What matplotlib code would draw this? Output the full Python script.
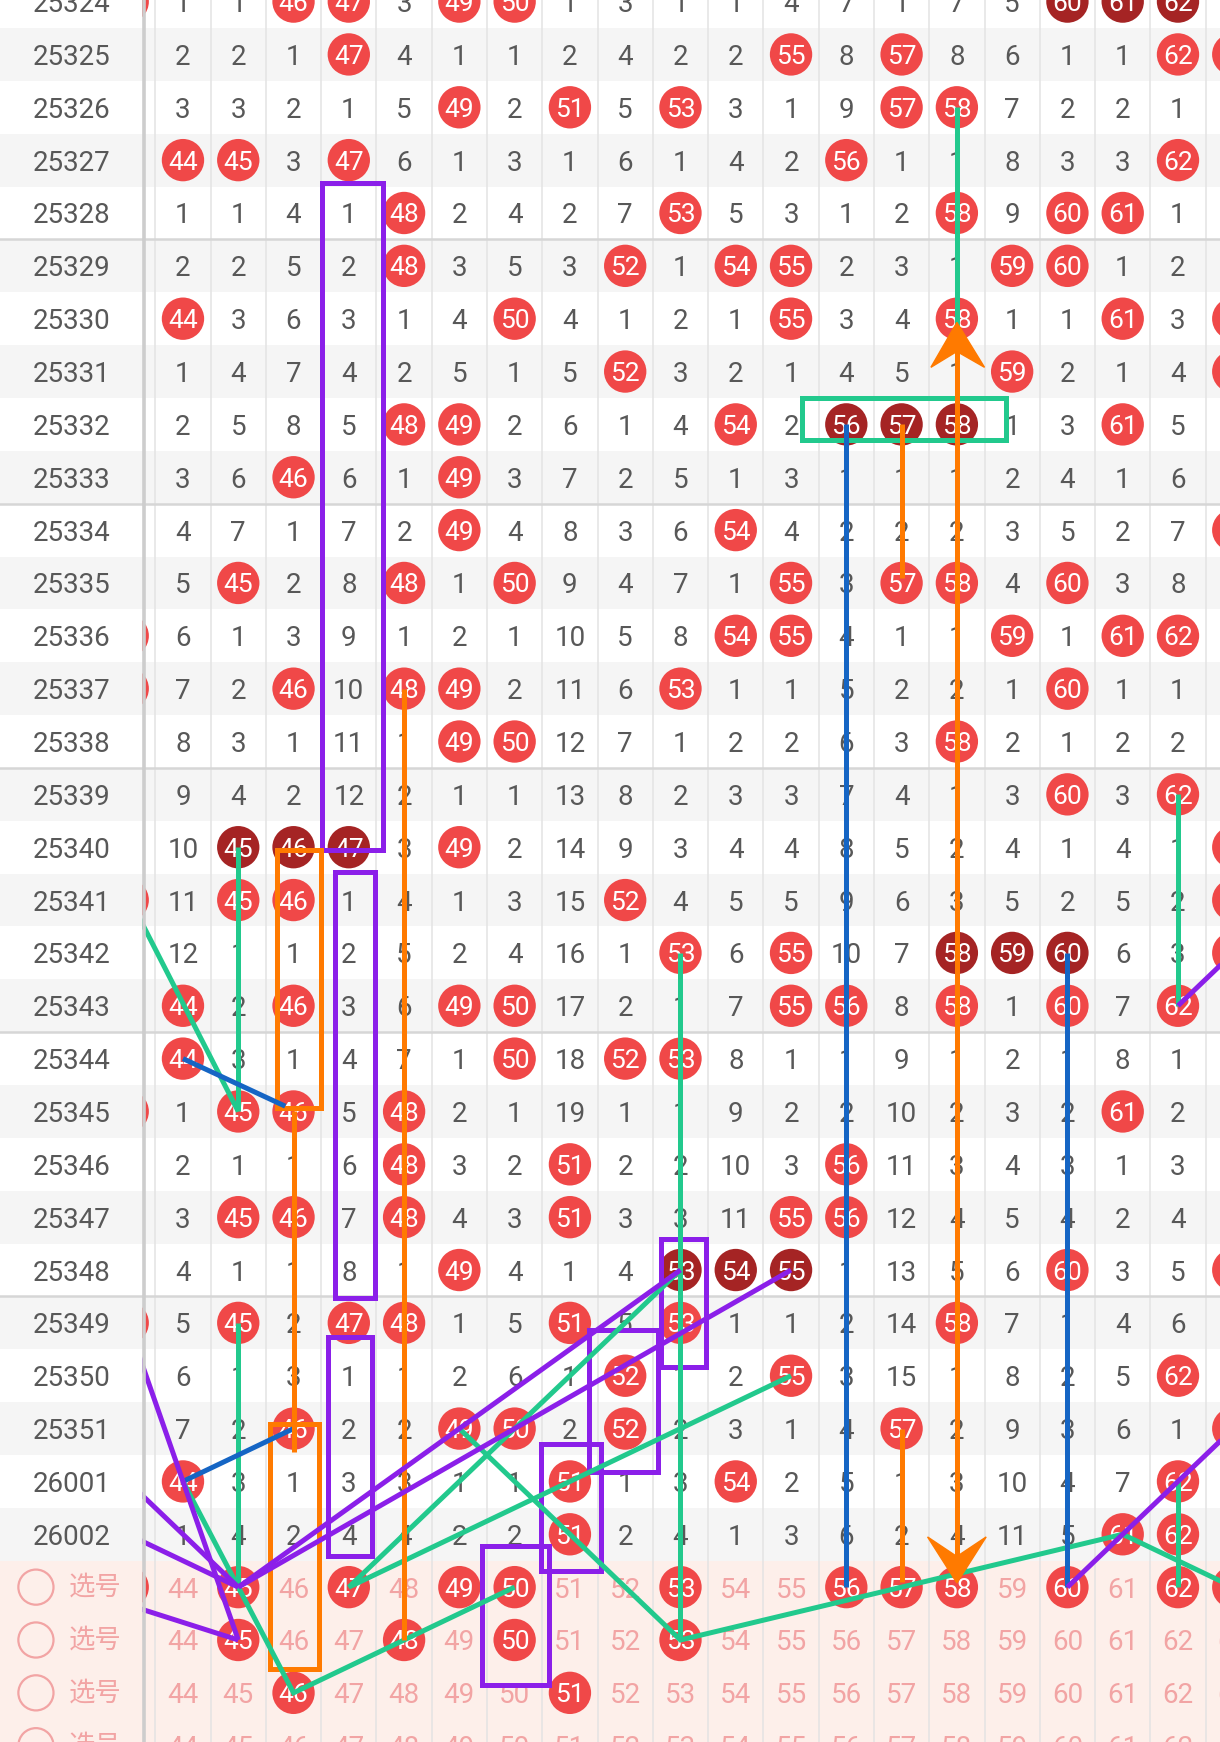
import matplotlib.pyplot as plt
from matplotlib.patches import Rectangle, Polygon

plt.rcParams['font.family'] = ['Roboto', 'Noto Sans CJK SC', 'DejaVu Sans']

issues = ['25324', '25325', '25326', '25327', '25328', '25329', '25330', '25331',
          '25332', '25333', '25334', '25335', '25336', '25337', '25338', '25339',
          '25340', '25341', '25342', '25343', '25344', '25345', '25346', '25347',
          '25348', '25349', '25350', '25351', '26001', '26002']
numbers = list(range(44, 63))

# omission count per number, 0 = number drawn (ball)
miss = [
    [1, 1, 0, 0, 3, 0, 0, 1, 3, 1, 1, 4, 7, 1, 7, 5, 0, 0, 0],
    [2, 2, 1, 0, 4, 1, 1, 2, 4, 2, 2, 0, 8, 0, 8, 6, 1, 1, 0],
    [3, 3, 2, 1, 5, 0, 2, 0, 5, 0, 3, 1, 9, 0, 0, 7, 2, 2, 1],
    [0, 0, 3, 0, 6, 1, 3, 1, 6, 1, 4, 2, 0, 1, 1, 8, 3, 3, 0],
    [1, 1, 4, 1, 0, 2, 4, 2, 7, 0, 5, 3, 1, 2, 0, 9, 0, 0, 1],
    [2, 2, 5, 2, 0, 3, 5, 3, 0, 1, 0, 0, 2, 3, 1, 0, 0, 1, 2],
    [0, 3, 6, 3, 1, 4, 0, 4, 1, 2, 1, 0, 3, 4, 0, 1, 1, 0, 3],
    [1, 4, 7, 4, 2, 5, 1, 5, 0, 3, 2, 1, 4, 5, 1, 0, 2, 1, 4],
    [2, 5, 8, 5, 0, 0, 2, 6, 1, 4, 0, 2, 0, 0, 0, 1, 3, 0, 5],
    [3, 6, 0, 6, 1, 0, 3, 7, 2, 5, 1, 3, 1, 1, 1, 2, 4, 1, 6],
    [4, 7, 1, 7, 2, 0, 4, 8, 3, 6, 0, 4, 2, 2, 2, 3, 5, 2, 7],
    [5, 0, 2, 8, 0, 1, 0, 9, 4, 7, 1, 0, 3, 0, 0, 4, 0, 3, 8],
    [6, 1, 3, 9, 1, 2, 1, 10, 5, 8, 0, 0, 4, 1, 1, 0, 1, 0, 0],
    [7, 2, 0, 10, 0, 0, 2, 11, 6, 0, 1, 1, 5, 2, 2, 1, 0, 1, 1],
    [8, 3, 1, 11, 1, 0, 0, 12, 7, 1, 2, 2, 6, 3, 0, 2, 1, 2, 2],
    [9, 4, 2, 12, 2, 1, 1, 13, 8, 2, 3, 3, 7, 4, 1, 3, 0, 3, 0],
    [10, 0, 0, 0, 3, 0, 2, 14, 9, 3, 4, 4, 8, 5, 2, 4, 1, 4, 1],
    [11, 0, 0, 1, 4, 1, 3, 15, 0, 4, 5, 5, 9, 6, 3, 5, 2, 5, 2],
    [12, 1, 1, 2, 5, 2, 4, 16, 1, 0, 6, 0, 10, 7, 0, 0, 0, 6, 3],
    [0, 2, 0, 3, 6, 0, 0, 17, 2, 1, 7, 0, 0, 8, 0, 1, 0, 7, 0],
    [0, 3, 1, 4, 7, 1, 0, 18, 0, 0, 8, 1, 1, 9, 1, 2, 1, 8, 1],
    [1, 0, 0, 5, 0, 2, 1, 19, 1, 1, 9, 2, 2, 10, 2, 3, 2, 0, 2],
    [2, 1, 1, 6, 0, 3, 2, 0, 2, 2, 10, 3, 0, 11, 3, 4, 3, 1, 3],
    [3, 0, 0, 7, 0, 4, 3, 0, 3, 3, 11, 0, 0, 12, 4, 5, 4, 2, 4],
    [4, 1, 1, 8, 1, 0, 4, 1, 4, 0, 0, 0, 1, 13, 5, 6, 0, 3, 5],
    [5, 0, 2, 0, 0, 1, 5, 0, 5, 0, 1, 1, 2, 14, 0, 7, 1, 4, 6],
    [6, 1, 3, 1, 1, 2, 6, 1, 0, 1, 2, 0, 3, 15, 1, 8, 2, 5, 0],
    [7, 2, 0, 2, 2, 0, 0, 2, 0, 2, 3, 1, 4, 0, 2, 9, 3, 6, 1],
    [0, 3, 1, 3, 3, 1, 1, 0, 1, 3, 0, 2, 5, 1, 3, 10, 4, 7, 0],
    [1, 4, 2, 4, 4, 2, 2, 0, 2, 4, 1, 3, 6, 2, 4, 11, 5, 0, 0],
]

# rows where the half-hidden columns 43 (left) and 63 (right) show a ball
hits_43 = [0, 12, 13, 17, 21, 25]
hits_63 = [1, 6, 7, 10, 16, 17, 18, 24, 27]

# user picks in the 选号 rows
picks = [[43, 45, 47, 49, 50, 53, 56, 57, 58, 60, 62, 63],
         [45, 48, 50, 53],
         [46, 51],
         []]
pick_label = '选号'

# hand-drawn marks: x = number, y = row (0 = 25324, 30 = first 选号 row)
PURPLE, GREEN, ORANGE, BLUE = '#8b1fe9', '#22c98d', '#ff7a00', '#1565c4'
boxes = [
    (46.52, 47.62, 3.44, 16.05, PURPLE),
    (46.75, 47.47, 16.47, 24.53, PURPLE),
    (46.62, 47.42, 25.26, 29.42, PURPLE),
    (49.41, 50.62, 29.23, 31.85, PURPLE),
    (50.48, 51.56, 27.30, 29.69, PURPLE),
    (51.34, 52.59, 25.13, 27.83, PURPLE),
    (52.64, 53.47, 23.41, 25.83, PURPLE),
    (45.70, 46.50, 16.05, 20.93, ORANGE),
    (45.58, 46.46, 26.91, 31.55, ORANGE),
    (55.20, 58.89, 7.50, 8.30, GREEN),
]
strokes = [
    (GREEN, [(58, 2), (58, 7.5)]),
    (GREEN, [(45, 16), (45, 21)]),
    (GREEN, [(42, 14.86), (45, 21)]),
    (GREEN, [(45, 25), (45, 30)]),
    (GREEN, [(44, 28), (46, 32), (50, 30)]),
    (GREEN, [(55, 26), (47, 30), (53, 24)]),
    (GREEN, [(53, 18), (53, 31)]),
    (GREEN, [(49, 27), (53, 31), (61, 29), (63, 30)]),
    (GREEN, [(62, 15), (62, 19)]),
    (GREEN, [(62, 28), (62, 30)]),
    (BLUE, [(44, 20), (45.85, 20.9)]),
    (BLUE, [(44, 28), (46, 27)]),
    (BLUE, [(56, 8), (56, 30)]),
    (BLUE, [(60, 18), (60, 30)]),
    (ORANGE, [(57, 8), (57, 10.9)]),
    (ORANGE, [(58, 6.4), (58, 29.6)]),
    (ORANGE, [(48, 13), (48, 31)]),
    (ORANGE, [(46, 21), (46, 27.45)]),
    (ORANGE, [(57, 27), (57, 29.9)]),
    (PURPLE, [(45, 30), (53, 24)]),
    (PURPLE, [(45, 30), (55, 24)]),
    (PURPLE, [(42, 22), (45, 31)]),
    (PURPLE, [(42, 27), (45, 30)]),
    (PURPLE, [(42, 28.5), (45, 30)]),
    (PURPLE, [(42, 30), (45, 31)]),
    (PURPLE, [(60, 30), (63, 27)]),
    (PURPLE, [(62, 19), (63, 18)]),
]
arrowheads = [
    [(58, 6.07), (57.53, 6.92), (58, 6.62), (58.5, 6.92)],
    [(58, 29.92), (57.47, 29.05), (58, 29.42), (58.53, 29.05)],
]

# ---- styling ----
RED, DARK = '#f04848', '#a52424'
GREY_TXT, PINK_TXT = '#585858', '#f2a4a4'
ROW_ALT, PINK_BG = '#f5f5f5', '#fdefea'
X0, X1, Y0, Y1 = 40.69, 62.76, -0.03, 32.93
ISSUE_EDGE = 43.26
BALL_S = 930

fig = plt.figure(figsize=(12.2, 17.42), dpi=100)
ax = fig.add_axes([0, 0, 1, 1])
ax.set_xlim(X0, X1)
ax.set_ylim(Y1, Y0)
ax.axis('off')

n_draw = len(issues)
n_rows = n_draw + len(picks)

# row backgrounds
for r in range(n_draw):
    ax.axhspan(r - 0.5, r + 0.5, color=ROW_ALT if r % 2 else 'white', lw=0, zorder=0)
ax.axhspan(n_draw - 0.5, Y1 + 1, color=PINK_BG, lw=0, zorder=0)

# column separators and 5-row group lines
for c in range(43, 64):
    ax.axvline(c + 0.5, color='#e3e3e3', lw=1.1, zorder=1)
groups = [r + 0.5 for r in range(4, n_draw - 1, 5)]
for g in groups:
    ax.axhline(g, color='#d6d6d6', lw=1.8, zorder=1.5)

# draw rows
bx, by, bc = [], [], []
for r, row in enumerate(miss):
    hits = {n for n, v in zip(numbers, row) if v == 0}
    for n, v in zip(numbers, row):
        if v == 0:
            run = ({n - 1, n + 1} <= hits or {n - 2, n - 1} <= hits
                   or {n + 1, n + 2} <= hits)
            bx.append(n); by.append(r); bc.append(DARK if run else RED)
            ax.text(n, r, str(n), color='white', fontsize=19,
                    ha='center', va='center_baseline', zorder=3)
        else:
            ax.text(n, r, str(v), color=GREY_TXT, fontsize=20,
                    ha='center', va='center_baseline', zorder=3)
for r in hits_43:
    bx.append(43); by.append(r); bc.append(RED)
for r in hits_63:
    bx.append(63); by.append(r); bc.append(RED)
    ax.text(63, r, '63', color='white', fontsize=19,
            ha='center', va='center_baseline', zorder=3)

# pick rows
for k, sel in enumerate(picks):
    y = n_draw + k
    for n in range(43, 64):
        if n in sel:
            bx.append(n); by.append(y); bc.append(RED)
            ax.text(n, y, str(n), color='white', fontsize=19,
                    ha='center', va='center_baseline', zorder=3)
        else:
            ax.text(n, y, str(n), color=PINK_TXT, fontsize=20,
                    ha='center', va='center_baseline', zorder=3)

ax.scatter(bx, by, s=BALL_S, c=bc, linewidths=0, zorder=2)

# hand-drawn marks
for x0, x1, y0, y1, col in boxes:
    ax.add_patch(Rectangle((x0, y0), x1 - x0, y1 - y0, fill=False, ec=col,
                           lw=3.6, joinstyle='miter', zorder=4))
for col, pts in strokes:
    xs, ys = zip(*pts)
    ax.plot(xs, ys, color=col, lw=3.6, solid_capstyle='butt',
            solid_joinstyle='miter', zorder=4)
for head in arrowheads:
    ax.add_patch(Polygon(head, closed=True, fc=ORANGE, ec=ORANGE, lw=1, zorder=4))

# frozen issue column on top
for r in range(n_rows):
    if r < n_draw:
        bg = ROW_ALT if r % 2 else 'white'
    else:
        bg = PINK_BG
    ax.add_patch(Rectangle((X0 - 0.1, r - 0.5), ISSUE_EDGE - X0 + 0.1, 1,
                           fc=bg, ec='none', zorder=5))
for g in groups:
    ax.plot([X0 - 0.1, ISSUE_EDGE], [g, g], color='#d6d6d6', lw=1.8, zorder=5.5)
ax.axvline(ISSUE_EDGE + 0.03, color='#cdcdcd', lw=2.6, zorder=6)

for r, name in enumerate(issues):
    ax.text(41.99, r, name, color=GREY_TXT, fontsize=20,
            ha='center', va='center_baseline', zorder=6)
pick_rows = list(range(n_draw, n_rows))
ax.scatter([41.34] * len(pick_rows), pick_rows, s=640, facecolors='none',
           edgecolors=PINK_TXT, linewidths=1.6, zorder=6)
for y in pick_rows:
    ax.text(42.42, y, pick_label, color=PINK_TXT, fontsize=19,
            family=['Noto Sans CJK SC', 'DejaVu Sans'],
            ha='center', va='center', zorder=6)

fig.savefig('out.png', dpi=100)
